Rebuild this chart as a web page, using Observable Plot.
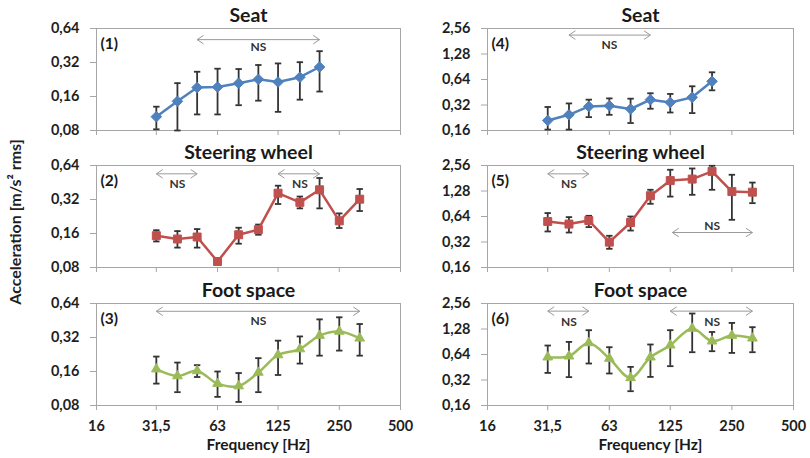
<!DOCTYPE html>
<html>
<head>
<meta charset="utf-8">
<script src="https://cdn.jsdelivr.net/npm/d3@7"></script>
<script src="https://cdn.jsdelivr.net/npm/@observablehq/plot@0.6"></script>
<style>
  body { margin: 0; background: #fff; }
  #chart { position: relative; width: 810px; height: 458px; background: #fff; font-family: Lato, "Open Sans", sans-serif; overflow: hidden; }
  #chart svg { position: absolute; overflow: visible; }
  #ylabel { position: absolute; left: -135px; top: 211px; width: 300px; height: 22px; line-height: 22px; text-align: center;
    transform: rotate(-90deg); font-size: 16px; font-weight: bold; color: #1f1f1f; }
  #chart g[aria-label="x-axis tick"], #chart g[aria-label="y-axis tick"],
  #chart g[aria-label="x-axis tick"] path, #chart g[aria-label="y-axis tick"] path,
  #chart g[aria-label="x-axis"] .tick line, #chart g[aria-label="y-axis"] .tick line { stroke: #a6a6a6; }
</style>
</head>
<body>
<div id="chart"><div id="ylabel">Acceleration [m/s² rms]</div></div>
<script>
// ---- data ----
const freqA = [31.5, 40, 50, 63, 80, 100, 125, 160, 200];
const freqB = [31.5, 40, 50, 63, 80, 100, 125, 160, 200, 250, 315];
const xTicks = [16, 31.5, 63, 125, 250, 500];
const yTicksL = [0.08, 0.16, 0.32, 0.64];
const yTicksR = [0.16, 0.32, 0.64, 1.28, 2.56];

// (1) Seat, left
const seatL_mean = [0.106, 0.145, 0.192, 0.194, 0.21, 0.227, 0.215, 0.237, 0.292];
const seatL_lo   = [0.082, 0.08, 0.111, 0.111, 0.134, 0.147, 0.117, 0.150, 0.177];
const seatL_hi   = [0.13, 0.21, 0.265, 0.282, 0.28, 0.304, 0.314, 0.322, 0.403];
// (4) Seat, right
const seatR_mean = [0.21, 0.245, 0.308, 0.314, 0.287, 0.37, 0.343, 0.394, 0.609];
const seatR_lo   = [0.164, 0.164, 0.23, 0.245, 0.196, 0.289, 0.261, 0.257, 0.477];
const seatR_hi   = [0.303, 0.334, 0.37, 0.383, 0.38, 0.44, 0.432, 0.532, 0.778];
// (2) Steering wheel, left
const steerL_mean = [0.153, 0.143, 0.149, 0.0904, 0.156, 0.173, 0.364, 0.302, 0.39, 0.207, 0.322];
const steerL_lo   = [0.136, 0.12, 0.12, 0.0868, 0.13, 0.156, 0.292, 0.267, 0.267, 0.179, 0.253];
const steerL_hi   = [0.171, 0.168, 0.175, 0.0965, 0.18, 0.192, 0.424, 0.34, 0.496, 0.241, 0.396];
// (5) Steering wheel, right
const steerR_mean = [0.559, 0.521, 0.574, 0.319, 0.544, 1.125, 1.70, 1.77, 2.18, 1.26, 1.24];
const steerR_lo   = [0.426, 0.414, 0.48, 0.266, 0.437, 0.904, 1.10, 1.154, 1.323, 0.585, 0.92];
const steerR_hi   = [0.702, 0.629, 0.652, 0.379, 0.64, 1.323, 2.28, 2.36, 2.54, 1.99, 1.61];
// (3) Foot space, left
const footL_mean = [0.168, 0.146, 0.162, 0.125, 0.119, 0.157, 0.224, 0.253, 0.333, 0.362, 0.315];
const footL_lo   = [0.125, 0.105, 0.143, 0.0954, 0.086, 0.105, 0.149, 0.188, 0.221, 0.245, 0.221];
const footL_hi   = [0.217, 0.192, 0.182, 0.16, 0.155, 0.21, 0.30, 0.327, 0.463, 0.483, 0.421];
// (6) Foot space, right
const footR_mean = [0.595, 0.611, 0.877, 0.574, 0.339, 0.595, 0.824, 1.30, 0.919, 1.072, 0.996];
const footR_lo   = [0.388, 0.346, 0.501, 0.382, 0.236, 0.348, 0.466, 0.681, 0.70, 0.668, 0.681];
const footR_hi   = [0.817, 0.901, 1.239, 0.78, 0.457, 0.84, 1.239, 1.95, 1.18, 1.51, 1.344];

// "NS" (not significant) ranges
const ns1 = [{x1: 50, x2: 200, y: 0.51, tx: 100, ty: 0.44}];
const ns2 = [{x1: 31.5, x2: 50, y: 0.54, tx: 40, ty: 0.44}, {x1: 125, x2: 200, y: 0.54, tx: 160, ty: 0.44}];
const ns3 = [{x1: 31.5, x2: 315, y: 0.546, tx: 100, ty: 0.447}];
const ns4 = [{x1: 40, x2: 100, y: 2.14, tx: 63, ty: 1.63}];
const ns5 = [{x1: 31.5, x2: 50, y: 2.04, tx: 40, ty: 1.54}, {x1: 128, x2: 315, y: 0.414, tx: 200, ty: 0.497}];
const ns6 = [{x1: 31.5, x2: 50, y: 2.08, tx: 40, ty: 1.55}, {x1: 125, x2: 315, y: 2.08, tx: 200, ty: 1.55}];

const titles = ["Seat", "Steering wheel", "Foot space"];
const tags = ["(1)", "(2)", "(3)", "(4)", "(5)", "(6)"];
const xLabel = "Frequency [Hz]";

// ---- helpers ----
const rows = (f, m, lo, hi) => f.map((d, i) => ({f: d, m: m[i], lo: lo[i], hi: hi[i]}));
const rad = (size) => Math.sqrt(size / Math.PI);
const diamondSym = {draw(c, s) { const r = rad(s); c.moveTo(0, -r); c.lineTo(r, 0); c.lineTo(0, r); c.lineTo(-r, 0); c.closePath(); }};
const capSym = {draw(c, s) { const r = rad(s); c.moveTo(-r, 0); c.lineTo(r, 0); }};
const chevL = {draw(c, s) { const r = rad(s); c.moveTo(r * 1.5, -r); c.lineTo(0, 0); c.lineTo(r * 1.5, r); }};
const chevR = {draw(c, s) { const r = rad(s); c.moveTo(-r * 1.5, -r); c.lineTo(0, 0); c.lineTo(-r * 1.5, r); }};
const fmtX = (d) => String(d).replace(".", ",");
const fmtY = (d) => d.toFixed(2).replace(".", ",");

const BLUE = "#4f81bd", RED = "#c0504d", GREEN = "#9bbb59";

const panels = [
  {data: rows(freqA, seatL_mean, seatL_lo, seatL_hi), ns: ns1, col: 0, row: 0, tag: tags[0], color: BLUE, symbol: diamondSym, r: 5.3, curve: "linear"},
  {data: rows(freqB, steerL_mean, steerL_lo, steerL_hi), ns: ns2, col: 0, row: 1, tag: tags[1], color: RED, symbol: "square", r: 4.5, curve: "linear"},
  {data: rows(freqB, footL_mean, footL_lo, footL_hi), ns: ns3, col: 0, row: 2, tag: tags[2], color: GREEN, symbol: "triangle", r: 3.6, curve: "catmull-rom"},
  {data: rows(freqA, seatR_mean, seatR_lo, seatR_hi), ns: ns4, col: 1, row: 0, tag: tags[3], color: BLUE, symbol: diamondSym, r: 5.3, curve: "linear"},
  {data: rows(freqB, steerR_mean, steerR_lo, steerR_hi), ns: ns5, col: 1, row: 1, tag: tags[4], color: RED, symbol: "square", r: 4.5, curve: "linear"},
  {data: rows(freqB, footR_mean, footR_lo, footR_hi), ns: ns6, col: 1, row: 2, tag: tags[5], color: GREEN, symbol: "triangle", r: 3.6, curve: "catmull-rom"}
];

const chart = document.getElementById("chart");
const rowTop = [0, 137, 275];
const BAR = "#333333";

for (const p of panels) {
  const last = p.row === 2;
  const left = p.col === 0;
  const svg = Plot.plot({
    width: 405,
    height: last ? 183 : 138,
    marginTop: 28,
    marginBottom: last ? 53 : 8,
    marginLeft: left ? 96 : 82,
    marginRight: left ? 5 : 17,
    style: {background: "transparent", overflow: "visible", fontFamily: "Lato, 'Open Sans', sans-serif", fontSize: "14.5px", fontWeight: "bold", color: "#1f1f1f"},
    x: {type: "log", domain: [16, 500], ticks: xTicks, tickFormat: last ? fmtX : () => "", tickSize: 5, tickPadding: 10, label: null},
    y: {type: "log", base: 2, domain: left ? [0.08, 0.64] : [0.16, 2.56], ticks: left ? yTicksL : yTicksR, tickFormat: fmtY, tickSize: 6, tickPadding: 11, label: null},
    marks: [
      Plot.frame({stroke: "#a6a6a6"}),
      Plot.ruleX(p.data, {x: "f", y1: "lo", y2: "hi", stroke: BAR, strokeWidth: 1.8}),
      Plot.dot(p.data, {x: "f", y: "lo", symbol: capSym, r: 3.2, stroke: BAR, fill: "none", strokeWidth: 1.8}),
      Plot.dot(p.data, {x: "f", y: "hi", symbol: capSym, r: 3.2, stroke: BAR, fill: "none", strokeWidth: 1.8}),
      Plot.line(p.data, {x: "f", y: "m", stroke: p.color, strokeWidth: 2.5, curve: p.curve}),
      Plot.dot(p.data, {x: "f", y: "m", symbol: p.symbol, r: p.r, fill: p.color, stroke: p.color, strokeWidth: 1}),
      Plot.link(p.ns, {x1: "x1", x2: "x2", y1: "y", y2: "y", stroke: "#9a9a9a", strokeWidth: 1}),
      Plot.dot(p.ns, {x: "x1", y: "y", symbol: chevL, r: 4.3, stroke: "#9a9a9a", fill: "none", strokeWidth: 1}),
      Plot.dot(p.ns, {x: "x2", y: "y", symbol: chevR, r: 4.3, stroke: "#9a9a9a", fill: "none", strokeWidth: 1}),
      Plot.text(p.ns, {x: "tx", y: "ty", text: () => "NS", fontSize: 12, fontWeight: "bold", fill: "#333"}),
      Plot.text([p.tag], {text: (d) => d, frameAnchor: "top-left", lineAnchor: "middle", textAnchor: "start", dx: 4, dy: 16, fontSize: 15.5, fontWeight: "bold", fill: "#1a1a1a"}),
      Plot.text([titles[p.row]], {text: (d) => d, frameAnchor: "top", lineAnchor: "middle", dy: -13, fontSize: 19.5, fontWeight: "bold", fill: "#1a1a1a"}),
      ...(last ? [Plot.text([xLabel], {text: (d) => d, frameAnchor: "bottom", lineAnchor: "middle", dx: 10, dy: 40, fontSize: 15.5, fontWeight: "bold", fill: "#1a1a1a"})] : [])
    ]
  });
  svg.style.left = (left ? 0 : 405) + "px";
  svg.style.top = rowTop[p.row] + "px";
  chart.appendChild(svg);
}
</script>
</body>
</html>
